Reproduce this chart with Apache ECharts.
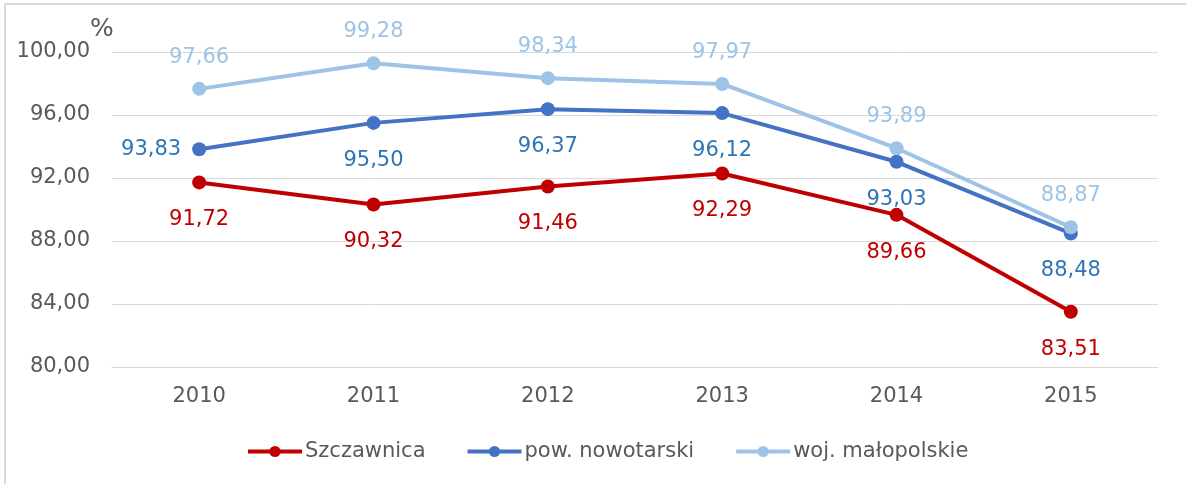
<!DOCTYPE html>
<html><head><meta charset="utf-8">
<script src="https://cdn.jsdelivr.net/npm/echarts@6/dist/echarts.min.js"></script>
<style>
html,body{margin:0;padding:0;background:#fff;overflow:hidden;}
#c{position:absolute;left:0;top:0;width:1186px;height:484px;}
</style></head>
<body>
<div id="c"></div>
<script>
const categories = ['2010','2011','2012','2013','2014','2015'];
const szczawnica = [91.72, 90.32, 91.46, 92.29, 89.66, 83.51];
const nowotarski = [93.83, 95.50, 96.37, 96.12, 93.03, 88.48];
const malopolskie = [97.66, 99.28, 98.34, 97.97, 93.89, 88.87];
const seriesNames = ['Szczawnica', 'pow. nowotarski', 'woj. małopolskie'];
const yTicks = { min: 80, max: 100, interval: 4 };

const fmt = v => v.toFixed(2).replace('.', ',');
const FONT = 'DejaVu Sans';

function lineSeries(name, data, color, labelColor, positions) {
  const dist = { top: 14, bottom: 20, left: 11 };
  return {
    name, type: 'line',
    symbol: 'circle', symbolSize: 14,
    lineStyle: { color, width: 4 },
    itemStyle: { color },
    z: 3,
    label: {
      show: true,
      formatter: p => fmt(p.value),
      color: labelColor, fontFamily: FONT, fontSize: 21,
      position: positions[0], distance: 14
    },
    data: data.map((v, i) => ({
      value: v,
      label: { position: positions[i], distance: dist[positions[i]] }
    }))
  };
}

const chart = echarts.init(document.getElementById('c'), null, { renderer: 'canvas' });
chart.setOption({
  animation: false,
  backgroundColor: '#ffffff',
  graphic: [
    { type: 'line', silent: true, shape: { x1: 5, y1: 4, x2: 1186, y2: 4 }, style: { stroke: '#d9d9d9', lineWidth: 2 } },
    { type: 'line', silent: true, shape: { x1: 5, y1: 3, x2: 5, y2: 484 }, style: { stroke: '#d9d9d9', lineWidth: 2 } }
  ],
  grid: { left: 112, right: 28, top: 52, bottom: 117, containLabel: false },
  legend: {
    bottom: 17, left: 241,
    itemWidth: 54, itemHeight: 14, itemGap: 40,
    lineStyle: { width: 4 },
    textStyle: { fontFamily: FONT, fontSize: 21, color: '#595959', padding: [0, 0, 0, -2] },
    data: seriesNames
  },
  xAxis: {
    type: 'category', data: categories, boundaryGap: true,
    axisLine: { show: true, lineStyle: { color: '#d9d9d9', width: 1 } },
    axisTick: { show: false },
    axisLabel: { fontFamily: FONT, fontSize: 21, color: '#595959', margin: 19 }
  },
  yAxis: {
    type: 'value', min: yTicks.min, max: yTicks.max, interval: yTicks.interval,
    name: '%', nameLocation: 'end', nameGap: 9,
    nameTextStyle: { fontFamily: FONT, fontSize: 25, color: '#595959', align: 'left', padding: [0, 0, 0, -22] },
    axisLine: { show: false }, axisTick: { show: false },
    axisLabel: { fontFamily: FONT, fontSize: 21, color: '#595959', margin: 22, formatter: v => fmt(v) },
    splitLine: { lineStyle: { color: '#d9d9d9', width: 1 } }
  },
  series: [
    lineSeries(seriesNames[0], szczawnica, '#C00000', '#C00000', ['bottom','bottom','bottom','bottom','bottom','bottom']),
    lineSeries(seriesNames[1], nowotarski, '#4472C4', '#2E75B6', ['left','bottom','bottom','bottom','bottom','bottom']),
    lineSeries(seriesNames[2], malopolskie, '#9DC3E6', '#9DC3E6', ['top','top','top','top','top','top'])
  ]
});
</script>
</body></html>
